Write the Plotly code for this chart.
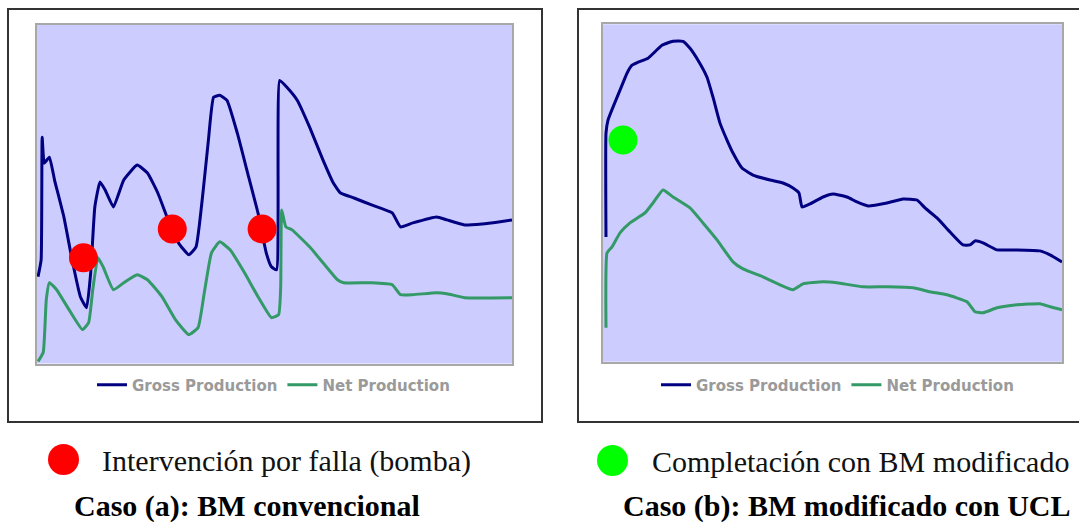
import plotly.graph_objects as go

# ---------------- data (arbitrary units) ----------------
# Caso (a): BM convencional
gross_a_t = [1, 4, 5, 7, 12, 17, 26, 34, 42, 48, 52, 56, 61, 66, 74, 84, 97, 107, 117, 127,
             137, 147, 154, 161, 166, 171, 177, 184, 194, 204, 214, 222, 227, 232, 235, 242, 252, 264, 277, 287,
             294, 307, 324, 344, 352, 364, 387, 397, 414, 431, 447, 460]
gross_a_q = [87, 104, 227, 201, 207, 184, 147, 104, 67, 56, 91, 157, 182, 174, 157, 184, 199, 191, 171, 144,
             121, 109, 117, 174, 224, 267, 269, 264, 231, 191, 151, 111, 97, 94, 284, 277, 264, 237, 204, 181,
             171, 166, 159, 151, 137, 141, 147, 144, 139, 140, 142, 144]
net_a_t = [1, 6, 9, 12, 19, 31, 44, 50, 54, 59, 64, 74, 84, 97, 107, 121, 134, 147, 156, 162,
           169, 177, 187, 201, 214, 227, 234, 236, 237, 241, 247, 264, 277, 291, 297, 324, 344, 352, 364, 387,
           397, 414, 460]
net_a_q = [2, 11, 64, 81, 74, 54, 34, 41, 74, 106, 97, 74, 81, 89, 84, 67, 44, 29, 36, 71,
           111, 122, 114, 91, 67, 46, 49, 77, 154, 137, 134, 117, 101, 84, 81, 81, 79, 69, 69, 71,
           70, 66, 66]
fail_a_t = [45, 131, 218]
fail_a_q = [106, 135, 135]

# Caso (b): BM modificado con UCL
gross_b_t = [3, 3, 5, 10, 17, 24, 29, 35, 45, 59, 70, 80, 87, 95, 104, 110, 117, 124, 130, 139,
             150, 167, 180, 190, 196, 199, 207, 220, 230, 244, 254, 265, 284, 300, 314, 322, 334, 347, 360, 367,
             372, 380, 394, 414, 437, 447, 459]
gross_b_q = [125, 229, 242, 255, 272, 289, 297, 300, 304, 317, 321, 321, 314, 302, 285, 265, 239, 222, 209, 194,
             187, 182, 179, 174, 169, 155, 158, 165, 168, 165, 160, 156, 159, 163, 162, 154, 144, 130, 117, 117,
             121, 119, 112, 112, 111, 107, 100]
net_b_t = [3, 4, 9, 17, 27, 42, 50, 60, 70, 87, 100, 114, 130, 140, 160, 177, 190, 200, 220, 234,
           260, 284, 310, 327, 344, 364, 372, 380, 394, 414, 437, 447, 459]
net_b_q = [34, 109, 115, 129, 139, 149, 159, 172, 165, 154, 139, 122, 100, 93, 85, 77, 72, 78, 80, 79,
           75, 75, 74, 70, 67, 60, 50, 49, 54, 57, 58, 55, 52]
comp_b_t = [20]
comp_b_q = [222]

series_names = ["Gross Production", "Net Production"]
marker_labels = ["Intervención por falla (bomba)", "Completación con BM modificado"]
case_titles = ["Caso (a): BM convencional", "Caso (b): BM modificado con UCL"]

# ---------------- styles ----------------
W, H = 1079, 524
GROSS_C = "#000080"
NET_C = "#339966"
BG = "#CCCCFF"
LEG_FONT = dict(family="DejaVu Sans", size=15, color="#9a9a9a", weight="bold")
SERIF = "Liberation Serif, Times New Roman, serif"
LINE_SHAPE = dict(shape="spline", smoothing=0.4)


def px(x):
    return x / W


def py(y):
    return 1 - y / H


fig = go.Figure()

fig.add_trace(go.Scatter(x=gross_a_t, y=gross_a_q, mode="lines", name=series_names[0],
                         line=dict(color=GROSS_C, width=3, **LINE_SHAPE), xaxis="x", yaxis="y", legend="legend"))
fig.add_trace(go.Scatter(x=net_a_t, y=net_a_q, mode="lines", name=series_names[1],
                         line=dict(color=NET_C, width=3, **LINE_SHAPE), xaxis="x", yaxis="y", legend="legend"))
fig.add_trace(go.Scatter(x=fail_a_t, y=fail_a_q, mode="markers", name=marker_labels[0],
                         marker=dict(color="#FF0000", size=29, line=dict(width=0)),
                         xaxis="x", yaxis="y", showlegend=False))

fig.add_trace(go.Scatter(x=gross_b_t, y=gross_b_q, mode="lines", name=series_names[0],
                         line=dict(color=GROSS_C, width=3, **LINE_SHAPE), xaxis="x2", yaxis="y2", legend="legend2"))
fig.add_trace(go.Scatter(x=net_b_t, y=net_b_q, mode="lines", name=series_names[1],
                         line=dict(color=NET_C, width=3, **LINE_SHAPE), xaxis="x2", yaxis="y2", legend="legend2"))
fig.add_trace(go.Scatter(x=comp_b_t, y=comp_b_q, mode="markers", name=marker_labels[1],
                         marker=dict(color="#00FF00", size=29, line=dict(width=0)),
                         xaxis="x2", yaxis="y2", showlegend=False))

axis_common = dict(showline=True, mirror=True, linecolor="#A8A8A8", linewidth=2,
                   showgrid=False, zeroline=False, showticklabels=False, ticks="")

fig.update_layout(
    width=W, height=H,
    margin=dict(l=0, r=0, t=0, b=0),
    paper_bgcolor="white",
    plot_bgcolor=BG,
    xaxis=dict(domain=[px(37), px(512)], range=[0, 460], anchor="y", **axis_common),
    yaxis=dict(domain=[py(363.5), py(24.5)], range=[0, 340], anchor="x", **axis_common),
    xaxis2=dict(domain=[px(603), px(1062)], range=[0, 459], anchor="y2", **axis_common),
    yaxis2=dict(domain=[py(361.7), py(24.3)], range=[0, 338], anchor="x2", **axis_common),
    legend=dict(orientation="h", x=px(92), y=py(385), xanchor="left", yanchor="middle",
                bgcolor="rgba(0,0,0,0)", font=LEG_FONT, traceorder="normal"),
    legend2=dict(orientation="h", x=px(656), y=py(385), xanchor="left", yanchor="middle",
                 bgcolor="rgba(0,0,0,0)", font=LEG_FONT, traceorder="normal"),
    showlegend=True,
)

# outer frames
fig.add_shape(type="rect", xref="paper", yref="paper", x0=px(8), x1=px(542), y0=py(422), y1=py(9),
              line=dict(color="#333333", width=2), layer="below")
fig.add_shape(type="rect", xref="paper", yref="paper", x0=px(578), x1=px(1090), y0=py(422), y1=py(9),
              line=dict(color="#333333", width=2), layer="below")

# key dots
fig.add_shape(type="circle", xref="paper", yref="paper", x0=px(48), x1=px(79), y0=py(475), y1=py(444),
              fillcolor="#FF0000", line=dict(width=0))
fig.add_shape(type="circle", xref="paper", yref="paper", x0=px(597), x1=px(628), y0=py(476), y1=py(445),
              fillcolor="#00FF00", line=dict(width=0))

# key texts and captions
fig.add_annotation(text=marker_labels[0], xref="paper", yref="paper", x=px(100), y=py(461),
                   xanchor="left", yanchor="middle", showarrow=False,
                   font=dict(family=SERIF, size=30, color="#111111"))
fig.add_annotation(text=marker_labels[1], xref="paper", yref="paper", x=px(650), y=py(461),
                   xanchor="left", yanchor="middle", showarrow=False,
                   font=dict(family=SERIF, size=30, color="#111111"))
fig.add_annotation(text="<b>" + case_titles[0] + "</b>", xref="paper", yref="paper", x=px(72), y=py(506),
                   xanchor="left", yanchor="middle", showarrow=False,
                   font=dict(family=SERIF, size=30, color="#000000"))
fig.add_annotation(text="<b>" + case_titles[1] + "</b>", xref="paper", yref="paper", x=px(621), y=py(506),
                   xanchor="left", yanchor="middle", showarrow=False,
                   font=dict(family=SERIF, size=30, color="#000000"))

fig.write_html("out.html", config={"displayModeBar": False},
               post_script="document.body.style.margin='0px';")
